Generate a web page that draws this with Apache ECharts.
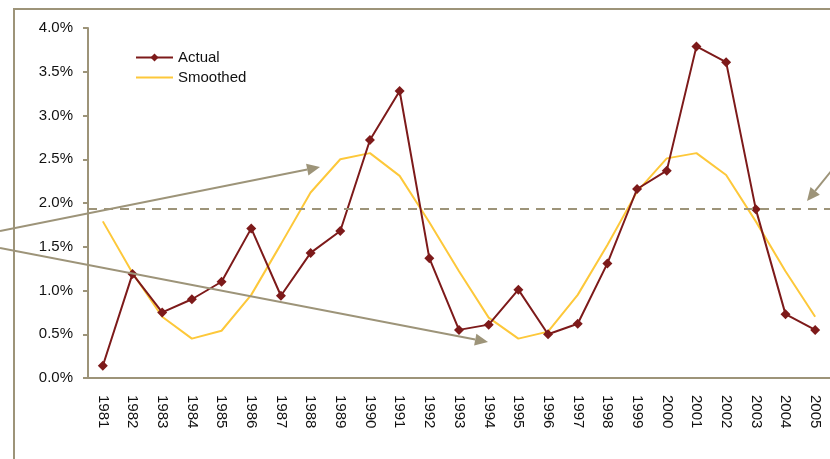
<!DOCTYPE html>
<html>
<head>
<meta charset="utf-8">
<script src="https://cdn.jsdelivr.net/npm/echarts@6/dist/echarts.min.js"></script>
<style>
  html, body { margin: 0; padding: 0; background: #fff; }
  #chart { width: 830px; height: 459px; }
</style>
</head>
<body>
<div id="chart"></div>
<script>
const years = ['1981', '1982', '1983', '1984', '1985', '1986', '1987', '1988', '1989', '1990',
  '1991', '1992', '1993', '1994', '1995', '1996', '1997', '1998', '1999', '2000',
  '2001', '2002', '2003', '2004', '2005']
const actual = [0.14, 1.19, 0.75, 0.9, 1.1, 1.71, 0.94, 1.43, 1.68, 2.72,
  3.28, 1.37, 0.55, 0.61, 1.01, 0.5, 0.62, 1.31, 2.16, 2.37,
  3.79, 3.61, 1.93, 0.73, 0.55]
const smoothed = [1.79, 1.2, 0.7, 0.45, 0.54, 0.95, 1.53, 2.12, 2.5, 2.57,
  2.31, 1.78, 1.22, 0.69, 0.45, 0.53, 0.95, 1.52, 2.13, 2.51,
  2.57, 2.32, 1.79, 1.22, 0.7]
const average = 1.93

const khaki = '#9d9479'
const font = 'Liberation Sans'

// arrow annotation: shaft + head, in pixels
const arrow = (x1, y1, x2, y2) => {
  const a = Math.atan2(y2 - y1, x2 - x1)
  const len = 13, half = 6
  const bx = x2 - len * Math.cos(a), by = y2 - len * Math.sin(a)
  const px = -Math.sin(a) * half, py = Math.cos(a) * half
  return [
    { type: 'line', shape: { x1, y1, x2: bx, y2: by }, style: { stroke: khaki, lineWidth: 2 }, z: 10 },
    { type: 'polygon', shape: { points: [[x2, y2], [bx + px, by + py], [bx - px, by - py]] }, style: { fill: khaki }, z: 10 }
  ]
}

const chart = echarts.init(document.getElementById('chart'))
chart.setOption({
  animation: false,
  textStyle: { fontFamily: font },
  grid: { left: 88, right: -3, top: 28, bottom: 81, containLabel: false },
  legend: {
    orient: 'vertical',
    left: 130,
    top: 45,
    itemWidth: 37,
    itemHeight: 10,
    itemGap: 5,
    textStyle: { fontSize: 15, color: '#111', fontFamily: font },
    data: ['Actual', { name: 'Smoothed', icon: 'path://M0,0h37v2h-37z' }]
  },
  xAxis: {
    type: 'category',
    data: years,
    boundaryGap: true,
    axisLine: { lineStyle: { color: khaki, width: 2 } },
    axisTick: { alignWithLabel: true, length: 6, lineStyle: { color: khaki, width: 2 } },
    axisLabel: { rotate: -90, margin: 17, fontSize: 15, color: '#111', fontFamily: font, interval: 0 }
  },
  yAxis: {
    type: 'value',
    min: 0,
    max: 4,
    interval: 0.5,
    splitLine: { show: false },
    axisLine: { show: true, lineStyle: { color: khaki, width: 2 } },
    axisTick: { show: true, length: 5, lineStyle: { color: khaki, width: 2 } },
    axisLabel: { formatter: (v) => v.toFixed(1) + '%', margin: 15, fontSize: 15, color: '#111', fontFamily: font }
  },
  series: [
    {
      name: 'Smoothed',
      type: 'line',
      data: smoothed,
      symbol: 'none',
      lineStyle: { color: '#fdc83a', width: 2 },
      itemStyle: { color: '#fdc83a' },
      z: 2
    },
    {
      name: 'Actual',
      type: 'line',
      data: actual,
      symbol: 'diamond',
      symbolSize: 10,
      lineStyle: { color: '#7d1a1a', width: 2 },
      itemStyle: { color: '#7d1a1a' },
      z: 3,
      markLine: {
        silent: true,
        symbol: 'none',
        label: { show: false },
        lineStyle: { color: khaki, type: [9, 7], width: 2 },
        data: [{ yAxis: average }]
      }
    }
  ],
  graphic: [
    { type: 'polyline', shape: { points: [[14, 459], [14, 9], [830, 9]] }, style: { stroke: khaki, lineWidth: 2, fill: null } },
    ...arrow(0, 231, 320, 167),
    ...arrow(0, 248, 488, 342),
    ...arrow(832, 170, 807, 201)
  ]
})
</script>
</body>
</html>
